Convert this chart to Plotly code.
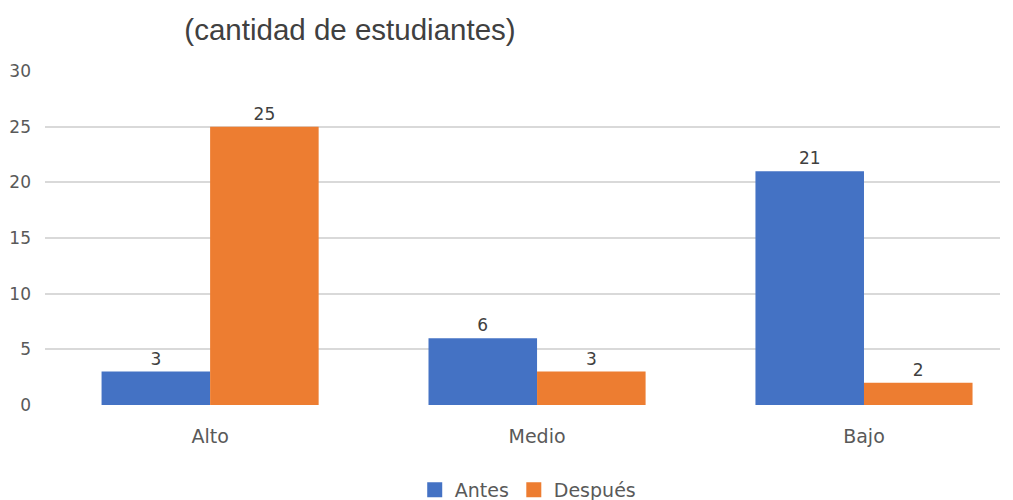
import plotly.graph_objects as go

categories = ["Alto", "Medio", "Bajo"]
antes = [3, 6, 21]
despues = [25, 3, 2]
y_ticks = [0, 5, 10, 15, 20, 25, 30]
series_names = ["Antes", "Después"]
series_colors = ["#4472C4", "#ED7D31"]

font_fam = "DejaVu Sans, Verdana, sans-serif"

W, H = 1005, 492  # page body has an 8px margin

fig = go.Figure()
for name, vals, col in zip(series_names, [antes, despues], series_colors):
    fig.add_trace(go.Bar(
        x=categories, y=vals, name=name, marker_color=col, marker_line_width=0,
        text=vals, textposition="outside", cliponaxis=False, showlegend=False,
        textfont=dict(size=17, color="#404040", family=font_fam),
    ))
# legend entries with larger square swatches
for name, col in zip(series_names, series_colors):
    fig.add_trace(go.Scatter(
        x=[None], y=[None], mode="markers", name=name,
        marker=dict(symbol="square", size=15, color=col),
    ))

fig.update_layout(
    width=W, height=H,
    paper_bgcolor="white", plot_bgcolor="white",
    margin=dict(l=37, r=13, t=63, b=95, autoexpand=False),
    barmode="group", bargap=0.336, bargroupgap=0,
    title=dict(text="(cantidad de estudiantes)", x=342/W, xanchor="center",
               y=1-22/H, yanchor="middle",
               font=dict(family="Liberation Sans, Arial, sans-serif", size=29.5, color="#404040")),
    xaxis=dict(range=[-0.505, 2.416], showgrid=False, showline=False, zeroline=False,
               ticks="", automargin=False, ticklabelstandoff=18,
               tickfont=dict(size=19, color="#595959", family=font_fam)),
    yaxis=dict(range=[0, 30], tickvals=y_ticks, showgrid=True, gridcolor="#D9D9D9",
               gridwidth=1.5, zeroline=False, showline=False, ticks="", automargin=False,
               ticklabelstandoff=13,
               tickfont=dict(size=17, color="#595959", family=font_fam)),
    legend=dict(orientation="h", x=508/W, xanchor="center", yref="container",
                y=10/H, yanchor="middle",
                font=dict(size=19, color="#595959", family=font_fam),
                itemwidth=30, traceorder="normal"),
)
fig.write_html("out.html")
